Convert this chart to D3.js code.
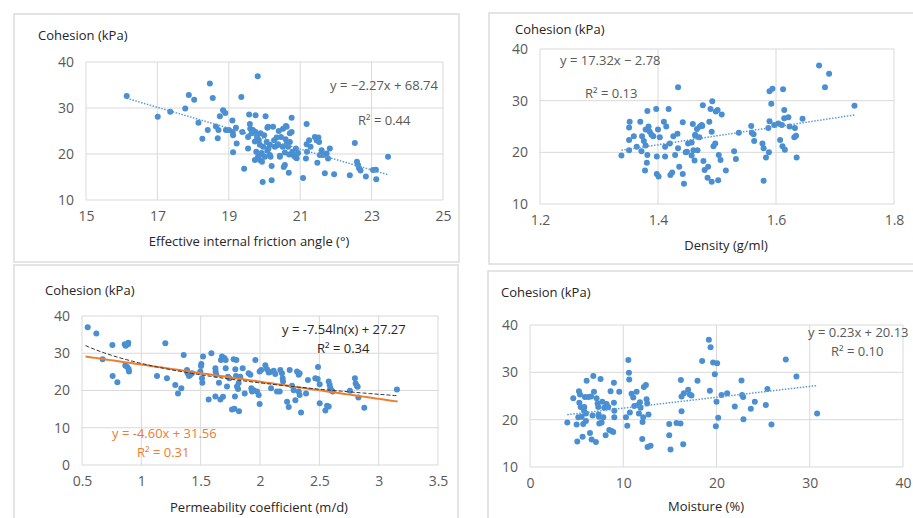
<!DOCTYPE html>
<html><head><meta charset="utf-8">
<script src="https://cdn.jsdelivr.net/npm/d3@7"></script>
<style>
html,body{margin:0;padding:0;background:#fff;}
svg{display:block;font-family:"Open Sans","Noto Sans",sans-serif;}
</style></head>
<body><svg id="c" width="913" height="518"></svg>
<script>
// ---------- DATA ----------
const frictionAngle = [16.14,17.01,17.36,17.78,17.88,18.03,18.15,18.26,18.41,18.47,18.55,18.64,18.69,18.71,18.75,18.84,18.9,18.92,19.0,19.1,19.12,19.11,19.12,19.2,19.22,19.35,19.38,19.43,19.54,19.54,19.57,19.59,19.6,19.64,19.68,19.75,19.75,19.77,19.79,19.81,19.82,19.84,19.87,19.89,19.92,19.93,19.95,19.96,19.99,20.01,20.03,20.06,20.08,20.08,20.11,20.17,20.2,20.2,20.24,20.27,20.29,20.34,20.36,20.4,20.43,20.46,20.51,20.52,20.54,20.57,20.59,20.62,20.63,20.66,20.68,20.69,20.71,20.76,20.76,20.78,20.85,20.88,21.08,21.16,21.18,21.18,21.19,21.25,21.29,21.41,21.46,21.48,21.51,21.53,21.55,21.6,21.69,21.74,21.78,21.83,21.95,22.39,22.53,22.59,22.62,22.65,22.69,22.84,23.04,23.12,23.13,23.46,20.1,20.6,20.71,20.15,19.87,20.38,19.73,20.15,20.43,20.94,20.9,19.73,20.57,21.64,20.8,19.92];
const cohesionA = [32.6,28.1,29.2,29.9,32.8,31.8,26.8,23.3,25.2,35.3,32.2,26.0,23.4,25.2,28.2,29.5,28.9,25.2,25.2,27.3,20.4,24.8,24.1,25.7,22.3,32.4,24.8,16.8,23.7,21.2,28.6,26.5,25.5,24.5,25.2,28.4,24.8,20.5,23.7,36.9,19.4,23.0,18.7,24.5,20.0,18.3,13.9,21.6,24.1,19.4,28.2,22.6,20.7,25.7,21.2,19.4,17.4,14.3,25.9,23.0,21.6,23.6,21.9,25.0,19.4,23.7,21.6,25.5,17.2,20.3,23.2,25.9,22.3,21.6,15.9,19.9,22.6,27.9,24.8,20.5,19.4,21.2,14.8,19.0,22.1,26.5,20.5,23.0,21.6,23.7,23.0,18.1,23.6,22.6,19.8,20.8,15.8,20.1,19.0,21.2,15.6,15.4,22.4,18.3,17.6,16.9,16.4,15.1,16.5,16.6,14.5,19.4,25.9,26.1,24.5,22.0,22.0,22.1,22.7,19.8,19.6,20.2,19.1,18.7,17.6,19.8,19.8,20.2];

const density = [1.338,1.351,1.351,1.352,1.351,1.359,1.364,1.37,1.372,1.373,1.376,1.378,1.379,1.379,1.381,1.382,1.382,1.384,1.386,1.389,1.392,1.397,1.398,1.398,1.4,1.401,1.403,1.41,1.412,1.412,1.414,1.418,1.42,1.421,1.424,1.426,1.429,1.433,1.434,1.434,1.436,1.442,1.442,1.444,1.447,1.451,1.457,1.459,1.46,1.462,1.463,1.466,1.467,1.47,1.471,1.475,1.476,1.477,1.479,1.485,1.484,1.487,1.489,1.491,1.491,1.492,1.494,1.497,1.498,1.501,1.502,1.503,1.506,1.508,1.515,1.529,1.532,1.537,1.558,1.559,1.562,1.563,1.577,1.579,1.579,1.583,1.587,1.588,1.589,1.589,1.592,1.594,1.597,1.604,1.607,1.61,1.611,1.612,1.614,1.614,1.615,1.621,1.623,1.631,1.632,1.634,1.635,1.645,1.673,1.683,1.69,1.733,1.463,1.457,1.474,1.449];
const cohesionB = [19.4,20.4,24.8,25.9,22.4,23.1,21.1,25.9,20.2,23.1,22.2,16.5,21.3,24.4,18.0,28.0,19.5,25.0,24.0,23.4,23.1,28.4,19.2,15.8,24.4,15.3,22.9,25.9,19.2,21.1,25.0,28.4,21.7,15.6,16.1,23.1,19.5,23.6,20.8,32.6,17.2,25.8,15.8,13.9,20.0,21.7,19.4,25.5,20.4,18.4,23.2,24.5,20.4,22.9,25.0,25.1,29.1,18.3,16.6,17.2,15.1,25.9,28.4,24.0,14.3,29.9,21.2,21.7,27.9,28.2,14.6,19.5,18.5,27.3,16.5,20.2,18.7,23.8,25.1,23.8,23.5,22.2,21.7,20.8,14.5,19.0,24.7,20.0,26.0,31.8,29.4,32.3,25.3,25.6,22.4,25.3,21.2,32.2,28.2,26.6,20.5,26.8,25.0,22.9,24.7,23.2,19.0,26.5,36.8,32.6,35.2,29.0,23.4,21.9,25.3,20.1];

const permeability = [0.548,0.621,0.674,0.756,0.758,0.798,0.86,0.868,0.89,0.888,0.865,0.879,0.893,0.896,1.132,1.202,1.216,1.286,1.309,1.337,1.357,1.385,1.39,1.402,1.413,1.427,1.497,1.506,1.503,1.514,1.511,1.52,1.567,1.59,1.624,1.626,1.632,1.624,1.654,1.666,1.671,1.68,1.688,1.699,1.711,1.711,1.722,1.73,1.742,1.764,1.784,1.778,1.801,1.792,1.798,1.789,1.806,1.815,1.823,1.82,1.834,1.854,1.871,1.904,1.919,1.927,1.933,1.947,1.961,1.975,1.989,1.997,1.997,2.01,2.045,2.059,2.073,2.087,2.093,2.115,2.129,2.143,2.166,2.171,2.185,2.191,2.194,2.228,2.242,2.25,2.27,2.284,2.298,2.312,2.326,2.334,2.326,2.334,2.346,2.388,2.404,2.466,2.486,2.489,2.503,2.503,2.551,2.565,2.579,2.579,2.587,2.593,2.601,2.612,2.758,2.8,2.806,2.823,2.817,2.829,2.879,3.154];
const cohesionC = [37.0,35.3,28.4,32.2,23.9,22.2,32.4,32.0,32.8,32.4,26.7,26.4,25.8,25.1,23.9,32.7,23.3,21.5,19.2,20.6,29.5,25.5,24.6,23.9,24.2,24.6,25.1,27.1,26.6,22.1,23.3,29.1,17.6,30.0,26.0,25.1,24.2,18.4,22.1,17.6,28.2,29.1,18.3,28.7,28.2,26.0,21.1,23.7,23.3,14.9,15.1,28.4,28.2,25.7,23.9,18.4,21.1,20.4,14.4,22.0,23.7,26.0,19.2,24.6,24.2,20.6,19.7,20.1,28.2,19.7,18.8,16.4,25.1,25.5,26.8,25.7,24.8,25.0,20.6,25.3,24.4,19.7,19.7,25.5,24.6,23.3,22.4,17.0,15.6,25.5,21.3,20.1,17.4,25.1,24.2,24.6,19.7,18.8,14.1,19.2,22.8,23.3,23.1,26.3,16.6,21.7,14.6,15.9,15.7,22.4,21.5,20.6,20.0,19.7,19.9,23.3,21.9,21.0,21.2,18.1,15.4,20.3];

const moisture = [4.0,4.64,5.0,5.07,5.18,5.29,5.25,5.36,5.43,5.54,5.64,5.71,5.79,5.82,5.89,6.0,6.0,6.07,6.25,6.43,6.54,6.61,6.79,6.71,6.86,7.07,7.14,7.25,7.32,7.36,7.39,7.43,7.57,7.68,7.75,7.86,7.96,8.11,8.21,8.39,8.5,8.64,8.75,8.93,9.0,9.0,9.04,9.04,9.57,10.29,10.43,10.54,10.61,10.64,10.71,10.89,11.07,11.18,11.43,11.61,11.68,11.79,11.86,12.04,12.07,12.14,12.21,12.43,12.5,12.57,12.61,12.71,12.93,14.93,14.93,15.07,15.71,16.14,16.25,16.25,16.18,16.43,16.5,16.96,17.14,17.32,17.96,18.46,19.18,19.29,19.36,19.64,19.82,19.93,20.0,20.07,20.18,20.54,21.14,21.96,22.68,22.75,22.86,22.89,23.68,24.11,25.29,25.46,25.89,27.43,28.57,30.79];
const cohesionD = [19.4,24.5,19.0,15.4,20.5,23.6,26.0,25.3,22.7,20.6,16.4,19.1,21.9,22.7,24.8,21.3,19.7,28.2,24.8,17.2,24.9,15.8,29.2,20.9,25.9,15.3,24.5,23.4,22.7,21.1,20.6,19.2,28.6,19.4,23.8,20.5,22.5,16.7,23.3,22.7,17.8,26.0,17.6,17.4,27.8,23.6,21.9,20.5,25.9,20.5,18.7,32.6,29.9,28.5,21.5,25.5,24.7,22.9,25.9,23.1,21.3,23.7,22.5,15.9,19.5,20.5,26.9,27.3,24.3,23.4,14.2,21.1,14.5,19.1,16.7,13.7,19.3,19.2,24.9,21.8,28.4,14.8,25.6,26.3,25.3,25.1,28.2,32.4,36.9,26.1,35.3,32.1,29.6,18.6,23.8,31.9,20.4,25.2,25.6,22.8,28.3,25.2,24.8,20.1,22.3,23.8,23.1,26.5,19.0,32.7,29.1,21.3];

// tick labels
const xTicksA = [15,17,19,21,23,25], yTicksA = [10,20,30,40];
const xTicksB = [1.2,1.4,1.6,1.8],   yTicksB = [10,20,30,40];
const xTicksC = [0.5,1,1.5,2,2.5,3,3.5], yTicksC = [0,10,20,30,40];
const xTicksD = [0,10,20,30,40],     yTicksD = [10,20,30,40];

// texts
const yTitle = "Cohesion (kPa)";
const xTitles = ["Effective internal friction angle (°)","Density (g/ml)","Permeability coefficient (m/d)","Moisture (%)"];
const eqA = ["y = \u22122.27x + 68.74","R\u00B2 = 0.44"];
const eqB = ["y = 17.32x  \u2212 2.78","R\u00B2 = 0.13"];
const eqCLog = ["y = -7.54ln(x) + 27.27","R\u00B2 = 0.34"];
const eqCLin = ["y = -4.60x + 31.56","R\u00B2 = 0.31"];
const eqD = ["y = 0.23x + 20.13","R\u00B2 = 0.10"];

// regression coefficients
const fitA = {a:-2.27, b:68.74}, fitB = {a:17.32, b:-2.78}, fitCLin = {a:-4.60, b:31.56}, fitCLog = {a:-7.54, b:27.27}, fitD = {a:0.23, b:20.13};

// ---------- LAYOUT ----------
const svg = d3.select("#c");
const BLUE = "#4a8fd1", TREND = "#5b9bd5", GRID = "#d9d9d9", TICK = "#595959", DARK = "#262626", ORANGE = "#ed7d31";

const panels = [
  {frame:[14,14,445,248], plot:[86,62,443,200], xd:[15,25], yd:[10,40], xt:xTicksA, yt:yTicksA, xs:frictionAngle, ys:cohesionA,
   title:[38,40], xtitle:[249,246], xlabel:xTitles[0],
   fits:[{f:x=>fitA.a*x+fitA.b, x0:16.14, x1:23.46, kind:"dot"}],
   labels:[{t:eqA[0],x:330,y:90,c:TICK},{t:eqA[1],x:358,y:125,c:TICK}]},
  {frame:[489,13,440,251], plot:[540,49,894,204], xd:[1.2,1.8], yd:[10,40], xt:xTicksB, yt:yTicksB, xs:density, ys:cohesionB,
   title:[515,34], xtitle:[726,250], xlabel:xTitles[1],
   fits:[{f:x=>fitB.a*x+fitB.b, x0:1.338, x1:1.733, kind:"dot"}],
   labels:[{t:eqB[0],x:560,y:65,c:TICK},{t:eqB[1],x:585,y:98,c:TICK}]},
  {frame:[14,265,444,260], plot:[82,316,438,465], xd:[0.5,3.5], yd:[0,40], xt:xTicksC, yt:yTicksC, xs:permeability, ys:cohesionC,
   title:[45,295], xtitle:[259,512], xlabel:xTitles[2],
   fits:[{f:x=>fitCLin.a*x+fitCLin.b, x0:0.53, x1:3.16, kind:"orange"},
         {f:x=>fitCLog.a*Math.log(x)+fitCLog.b, x0:0.53, x1:3.16, kind:"dash"}],
   labels:[{t:eqCLog[0],x:282,y:334,c:DARK},{t:eqCLog[1],x:317,y:353,c:DARK},
           {t:eqCLin[0],x:112,y:438,c:ORANGE},{t:eqCLin[1],x:137,y:457,c:ORANGE}]},
  {frame:[488,271,440,260], plot:[530,325,903,467], xd:[0,40], yd:[10,40], xt:xTicksD, yt:yTicksD, xs:moisture, ys:cohesionD,
   title:[501,297], xtitle:[706,511], xlabel:xTitles[3],
   fits:[{f:x=>fitD.a*x+fitD.b, x0:4.0, x1:30.8, kind:"dot"}],
   labels:[{t:eqD[0],x:808,y:337,c:TICK},{t:eqD[1],x:831,y:356,c:TICK}]}
];

panels.forEach(p => {
  const g = svg.append("g");
  g.append("rect").attr("x",p.frame[0]).attr("y",p.frame[1]).attr("width",p.frame[2]).attr("height",p.frame[3])
    .attr("fill","#fff").attr("stroke","#dcdcdc").attr("stroke-width",1.5);
  const x = d3.scaleLinear().domain(p.xd).range([p.plot[0],p.plot[2]]);
  const y = d3.scaleLinear().domain(p.yd).range([p.plot[3],p.plot[1]]);
  // grid
  g.append("g").selectAll("line").data(p.xt).join("line")
    .attr("x1",d=>x(d)).attr("x2",d=>x(d)).attr("y1",p.plot[1]).attr("y2",p.plot[3])
    .attr("stroke",GRID).attr("stroke-width",1);
  g.append("g").selectAll("line").data(p.yt).join("line")
    .attr("y1",d=>y(d)).attr("y2",d=>y(d)).attr("x1",p.plot[0]).attr("x2",p.plot[2])
    .attr("stroke",GRID).attr("stroke-width",1);
  // axes (labels only)
  const xa = g.append("g").attr("transform",`translate(0,${p.plot[3]})`)
    .call(d3.axisBottom(x).tickValues(p.xt).tickFormat(d=>String(d)).tickSize(0).tickPadding(11));
  const ya = g.append("g").attr("transform",`translate(${p.plot[0]},0)`)
    .call(d3.axisLeft(y).tickValues(p.yt).tickFormat(d=>String(d)).tickSize(0).tickPadding(12));
  [xa,ya].forEach(a=>{a.select(".domain").remove(); a.selectAll("text").attr("fill",TICK).style("font-size","14px").style("font-family",'"Open Sans",sans-serif');});
  // points
  g.append("g").selectAll("circle").data(p.xs.map((v,i)=>[v,p.ys[i]])).join("circle")
    .attr("cx",d=>x(d[0])).attr("cy",d=>y(d[1])).attr("r",3).attr("fill",BLUE);
  // fits
  p.fits.forEach(ft => {
    const pts = d3.range(0,101).map(i=>{const xv=ft.x0+(ft.x1-ft.x0)*i/100; return [xv, ft.f(xv)];});
    const path = g.append("path").datum(pts).attr("fill","none")
      .attr("d", d3.line().x(d=>x(d[0])).y(d=>y(d[1])));
    if (ft.kind==="dot") path.attr("stroke",TREND).attr("stroke-width",1.5).attr("stroke-dasharray","1.5,1.5");
    else if (ft.kind==="orange") path.attr("stroke",ORANGE).attr("stroke-width",2);
    else path.attr("stroke","#333").attr("stroke-width",1).attr("stroke-dasharray","4,2");
  });
  // titles
  g.append("text").attr("x",p.title[0]).attr("y",p.title[1]).text(yTitle)
    .attr("fill",DARK).style("font-size","13px");
  g.append("text").attr("x",p.xtitle[0]).attr("y",p.xtitle[1]).attr("text-anchor","middle").text(p.xlabel)
    .attr("fill",DARK).style("font-size","13px");
  p.labels.forEach(l => {
    g.append("text").attr("x",l.x).attr("y",l.y).text(l.t).attr("fill",l.c).style("font-size","13px");
  });
});
</script></body></html>
